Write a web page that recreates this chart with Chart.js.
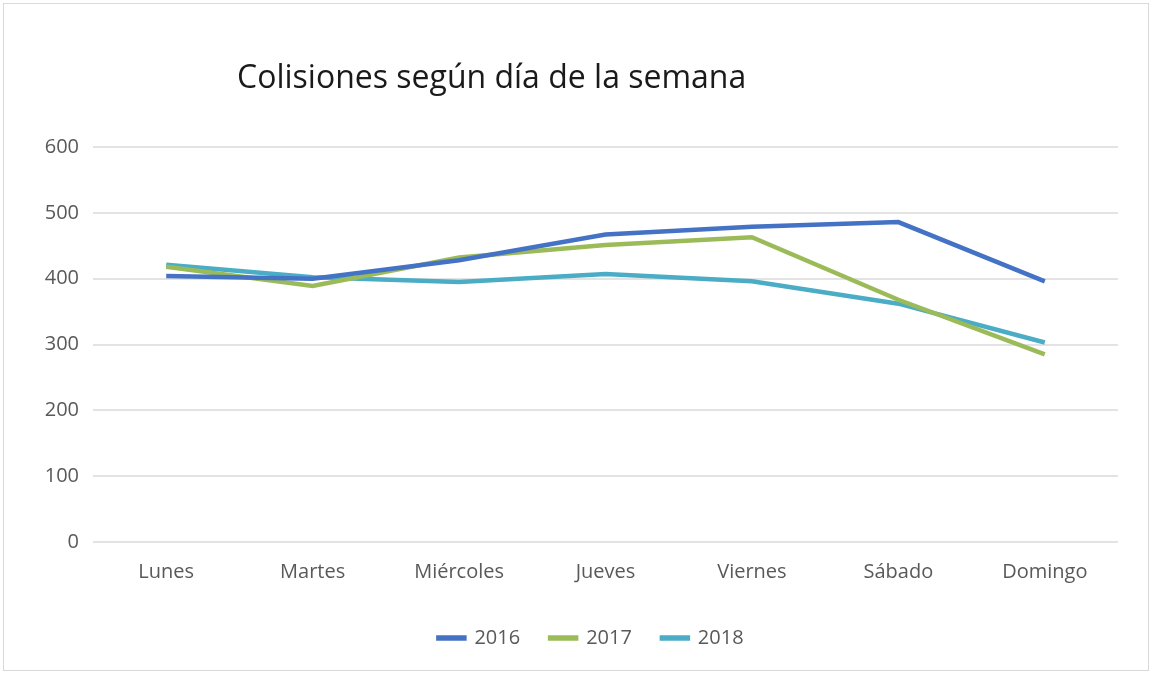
<!DOCTYPE html>
<html>
<head>
<meta charset="utf-8">
<script src="https://cdn.jsdelivr.net/npm/chart.js@4.4.0/dist/chart.umd.min.js"></script>
<style>
  html, body { margin: 0; padding: 0; background: #fff; }
  #wrap { position: relative; width: 1152px; height: 675px; }
  #frame { position: absolute; left: 3px; top: 3px; width: 1146px; height: 668px; border: 1px solid #d9d9d9; box-sizing: border-box; pointer-events: none; }
</style>
</head>
<body>
<div id="wrap">
  <canvas id="chart" width="1152" height="675"></canvas>
  <div id="frame"></div>
</div>
<script>
const titleText = "Colisiones según día de la semana";
const days = ["Lunes", "Martes", "Miércoles", "Jueves", "Viernes", "Sábado", "Domingo"];
const years = ["2016", "2017", "2018"];
const values2016 = [404, 400, 428, 467, 479, 486, 396];
const values2017 = [418, 389, 432, 451, 463, 368, 285];
const values2018 = [421, 402, 395, 407, 396, 362, 303];
const colors = ["#4472C4", "#9BBB59", "#4BACC6"];

const font = "'Open Sans', 'Noto Sans', sans-serif";

// title sits left of centre in the original, so draw it ourselves
const titlePlugin = {
    id: "leftTitle",
    afterLayout(chart){
        // legend in the original is centred a bit right of the canvas middle
        chart.legend.left += 32;
        chart.legend.right += 32;
    },
    afterDraw(chart){
        const ctx = chart.ctx;
        ctx.save();
        ctx.font = "32px " + font;
        ctx.fillStyle = "#1a1a1a";
        ctx.textBaseline = "alphabetic";
        ctx.textAlign = "left";
        ctx.fillText(titleText, 237, 88);
        ctx.restore();
    }
};

const series = [values2016, values2017, values2018];

new Chart(document.getElementById("chart"), {
    type: "line",
    data: {
        labels: days,
        datasets: years.map((y, i) => ({
            label: y,
            data: series[i],
            borderColor: colors[i],
            backgroundColor: colors[i],
            borderWidth: 4.5,
            pointRadius: 0,
            tension: 0,
            fill: false
        }))
    },
    options: {
        responsive: false,
        animation: false,
        layout: { padding: { top: 147, right: 34, left: 0, bottom: 17 } },
        plugins: {
            legend: {
                position: "bottom",
                labels: {
                    color: "#595959",
                    font: { family: font, size: 20 },
                    boxWidth: 26,
                    boxHeight: 1,
                    padding: 30
                }
            },
            tooltip: { enabled: false }
        },
        scales: {
            x: {
                offset: true,
                grid: { display: false },
                border: { display: false },
                ticks: { color: "#595959", font: { family: font, size: 20 }, padding: 10, maxRotation: 0 },
                afterFit(scale){ scale.height = 56; }
            },
            y: {
                min: 0,
                max: 600,
                grid: { color: "#e3e3e3", lineWidth: 2, drawTicks: false },
                border: { display: false },
                ticks: { stepSize: 100, color: "#595959", font: { family: font, size: 20 }, padding: 14 },
                afterFit(scale){ scale.width = 93; }
            }
        }
    },
    plugins: [titlePlugin]
});
</script>
</body>
</html>
